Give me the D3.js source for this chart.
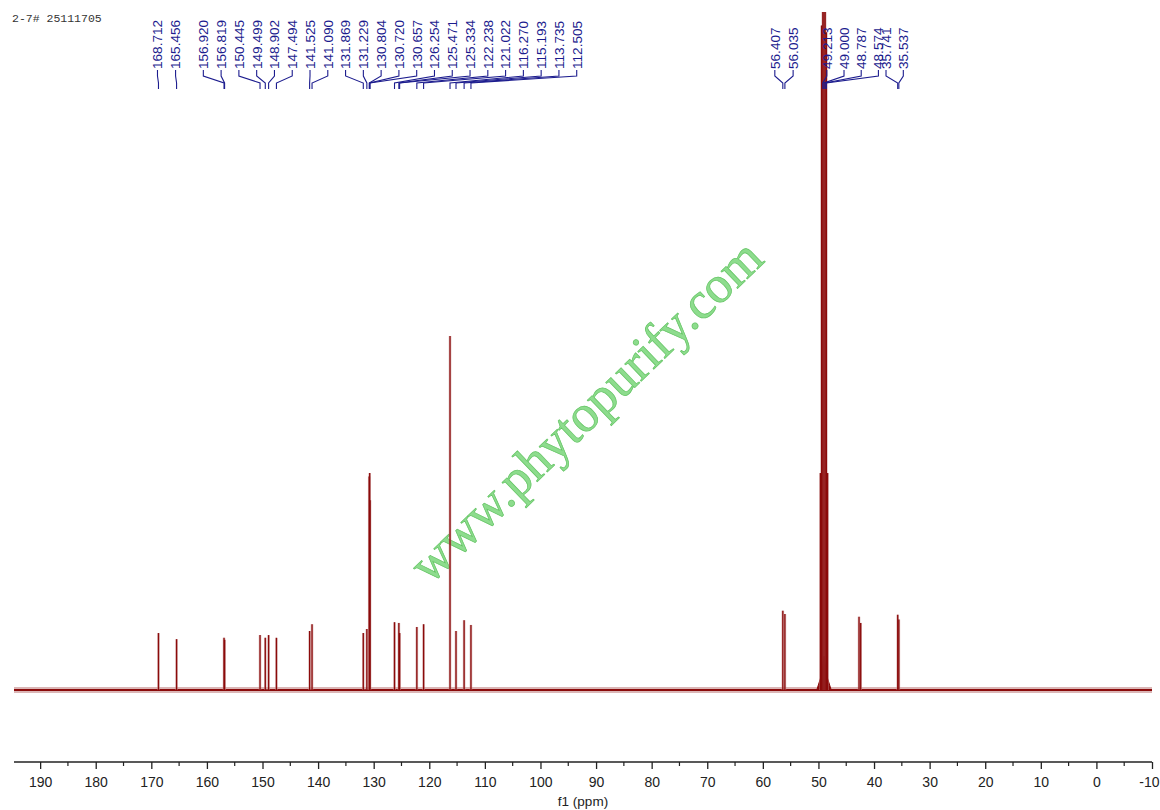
<!DOCTYPE html>
<html>
<head>
<meta charset="utf-8">
<script src="https://cdn.jsdelivr.net/npm/d3@7"></script>
<style>
  html, body { margin: 0; padding: 0; background: #ffffff; }
  svg { display: block; }
</style>
</head>
<body>
<svg id="chart" width="1160" height="810"></svg>
<script>
// ---------------- DATA ----------------
const sampleTitle = "2-7# 25111705";
const axisTitle = "f1 (ppm)";

// Peak positions (ppm) and relative intensities (100 = top of frame)
const peakPpm = [168.712, 165.456, 156.920, 156.819, 150.445, 149.499, 148.902, 147.494,
  141.525, 141.090, 131.869, 131.229, 130.804, 130.720, 130.657, 126.254, 125.471, 125.334,
  122.238, 121.022, 116.270, 115.193, 113.735, 112.505,
  56.407, 56.035,
  49.639, 49.426, 49.213, 49.000, 48.787, 48.574, 48.361,
  42.70, 42.40, 35.741, 35.537];
const peakHeight = [8.4, 7.5, 7.7, 7.4, 8.1, 7.7, 8.1, 7.7,
  8.7, 9.7, 8.4, 9.0, 31.5, 32.0, 28.0, 10.0, 9.9, 8.4,
  9.3, 9.7, 52.2, 8.7, 10.3, 9.6,
  11.7, 11.2,
  32, 98, 190, 220, 190, 97, 32,
  10.8, 9.9, 11.1, 10.4];

// Broad solvent foot under the CD3OD septet
const humpPpm = [49.0];
const humpHeight = [5.0];
const humpHalfWidth = [1.3];

// Peak-label groups (labels printed at the top)
const labelGroups = [
  ["168.712"],
  ["165.456"],
  ["156.920", "156.819", "150.445", "149.499", "148.902", "147.494", "141.525", "141.090",
   "131.869", "131.229", "130.804", "130.720", "130.657", "126.254", "125.471", "125.334",
   "122.238", "121.022", "116.270", "115.193", "113.735", "112.505"],
  ["56.407", "56.035"],
  ["49.213", "49.000", "48.787", "48.574"],
  ["35.741", "35.537"]
];

// Axis ticks
const majorTicks = [190, 180, 170, 160, 150, 140, 130, 120, 110, 100, 90, 80, 70, 60, 50, 40, 30, 20, 10, 0, -10];
const minorTicks = [185, 175, 165, 155, 145, 135, 125, 115, 105, 95, 85, 75, 65, 55, 45, 35, 25, 15, 5, -5];

// ---------------- LAYOUT ----------------
const svg = d3.select("#chart");
const X0 = 14, X1 = 1152;
const baseY = 690, topY = 12, axisY = 762;
const specColor = "#8b0a0a";
const labelColor = "#1c1c8e";

const x = d3.scaleLinear().domain([194.7, -10]).range([X0, X1]);
const y = d3.scaleLinear().domain([0, 100]).range([baseY, topY]).clamp(true);

// title
svg.append("text")
  .attr("x", 12).attr("y", 22)
  .attr("font-family", "Liberation Mono, DejaVu Sans Mono, monospace")
  .attr("font-size", 11.5)
  .attr("fill", "#333")
  .text(sampleTitle);

// watermark
svg.append("text")
  .attr("transform", "translate(587,412) rotate(-44)")
  .attr("text-anchor", "middle")
  .attr("dy", "0.3em")
  .attr("font-family", "Liberation Serif, Times New Roman, serif")
  .attr("font-size", 52)
  .attr("fill", "#8ddc8d")
  .attr("stroke", "#63c463")
  .attr("stroke-width", 0.7)
  .text("www.phytopurify.com");

// ---------------- SPECTRUM ----------------
const spec = svg.append("g");

// baseline noise band
spec.append("line")
  .attr("x1", x(194.7)).attr("x2", x(-10))
  .attr("y1", y(0)).attr("y2", y(0))
  .attr("stroke", "#b06060").attr("stroke-width", 6).attr("opacity", 0.45);
spec.append("line")
  .attr("x1", x(194.7)).attr("x2", x(-10))
  .attr("y1", y(0)).attr("y2", y(0))
  .attr("stroke", specColor).attr("stroke-width", 2.2);

// solvent foot
const humpLine = d3.line().x(d => x(d[0])).y(d => y(d[1]));
humpPpm.forEach((p, i) => {
  const w = humpHalfWidth[i], h = humpHeight[i];
  spec.append("path")
    .attr("d", humpLine([[p + w, 0], [p + w / 3, h * 0.45], [p, h], [p - w / 3, h * 0.45], [p - w, 0]]) + "Z")
    .attr("fill", specColor).attr("stroke", specColor).attr("stroke-width", 1);
});

// peaks
const peaks = peakPpm.map((p, i) => ({ p, h: peakHeight[i] }));
spec.selectAll("line.halo").data(peaks).join("line")
  .attr("class", "halo")
  .attr("x1", d => x(d.p)).attr("x2", d => x(d.p))
  .attr("y1", y(0)).attr("y2", d => y(d.h))
  .attr("stroke", "#c48a8a").attr("stroke-width", 2.6).attr("opacity", 0.6);
spec.selectAll("line.pk").data(peaks).join("line")
  .attr("class", "pk")
  .attr("x1", d => x(d.p)).attr("x2", d => x(d.p))
  .attr("y1", y(0)).attr("y2", d => y(d.h))
  .attr("stroke", specColor).attr("stroke-width", 1.3);

// ---------------- PEAK LABELS ----------------
const labelGap = [0, 0, 17.78, 18.3, 17.2, 17.3];
const labelShift = [-1, -1, -20.7, -8, 4, -11.7];
const labelBottom = 69, kneeTop = 76, kneeBottom = 83, tipY = 89;
const lab = svg.append("g");
labelGroups.forEach((grp, gi) => {
  const start = x(+grp[0]) + labelShift[gi];
  grp.forEach((t, i) => {
    const lx = start + i * labelGap[gi];
    const px = x(+t);
    lab.append("text")
      .attr("transform", `translate(${lx},${labelBottom}) rotate(-90)`)
      .attr("dy", "0.36em")
      .attr("font-family", "Liberation Sans, Arial, sans-serif")
      .attr("font-size", 13.6)
      .attr("fill", labelColor)
      .text(t);
    lab.append("path")
      .attr("d", d3.line()([[lx, labelBottom + 1], [lx, kneeTop], [px, kneeBottom], [px, tipY]]))
      .attr("fill", "none")
      .attr("stroke", labelColor)
      .attr("stroke-width", 1.1);
  });
});

// ---------------- AXIS ----------------
const axisG = svg.append("g").attr("transform", `translate(0,${axisY})`);
axisG.append("line")
  .attr("x1", X0).attr("x2", X1).attr("y1", 0).attr("y2", 0)
  .attr("stroke", "#222").attr("stroke-width", 1.3);
const ax = d3.axisBottom(x).tickValues(majorTicks).tickSize(7).tickSizeOuter(0).tickPadding(8)
  .tickFormat(d => String(d));
axisG.call(ax);
axisG.select(".domain").remove();
axisG.selectAll(".tick line").attr("stroke", "#222").attr("stroke-width", 1.3);
axisG.selectAll(".tick text")
  .attr("font-family", "Liberation Sans, Arial, sans-serif")
  .attr("font-size", 14)
  .attr("fill", "#222");
// keep the last (edge) label inside the frame
axisG.selectAll(".tick text").filter(d => d === -10)
  .attr("text-anchor", "end")
  .attr("x", 1159 - x(-10));
axisG.selectAll("line.minor").data(minorTicks).join("line")
  .attr("class", "minor")
  .attr("x1", d => x(d)).attr("x2", d => x(d))
  .attr("y1", 0).attr("y2", 4)
  .attr("stroke", "#222").attr("stroke-width", 1.2);

svg.append("text")
  .attr("x", 583).attr("y", 806)
  .attr("text-anchor", "middle")
  .attr("font-family", "Liberation Sans, Arial, sans-serif")
  .attr("font-size", 13.5)
  .attr("fill", "#222")
  .text(axisTitle);
</script>
</body>
</html>
